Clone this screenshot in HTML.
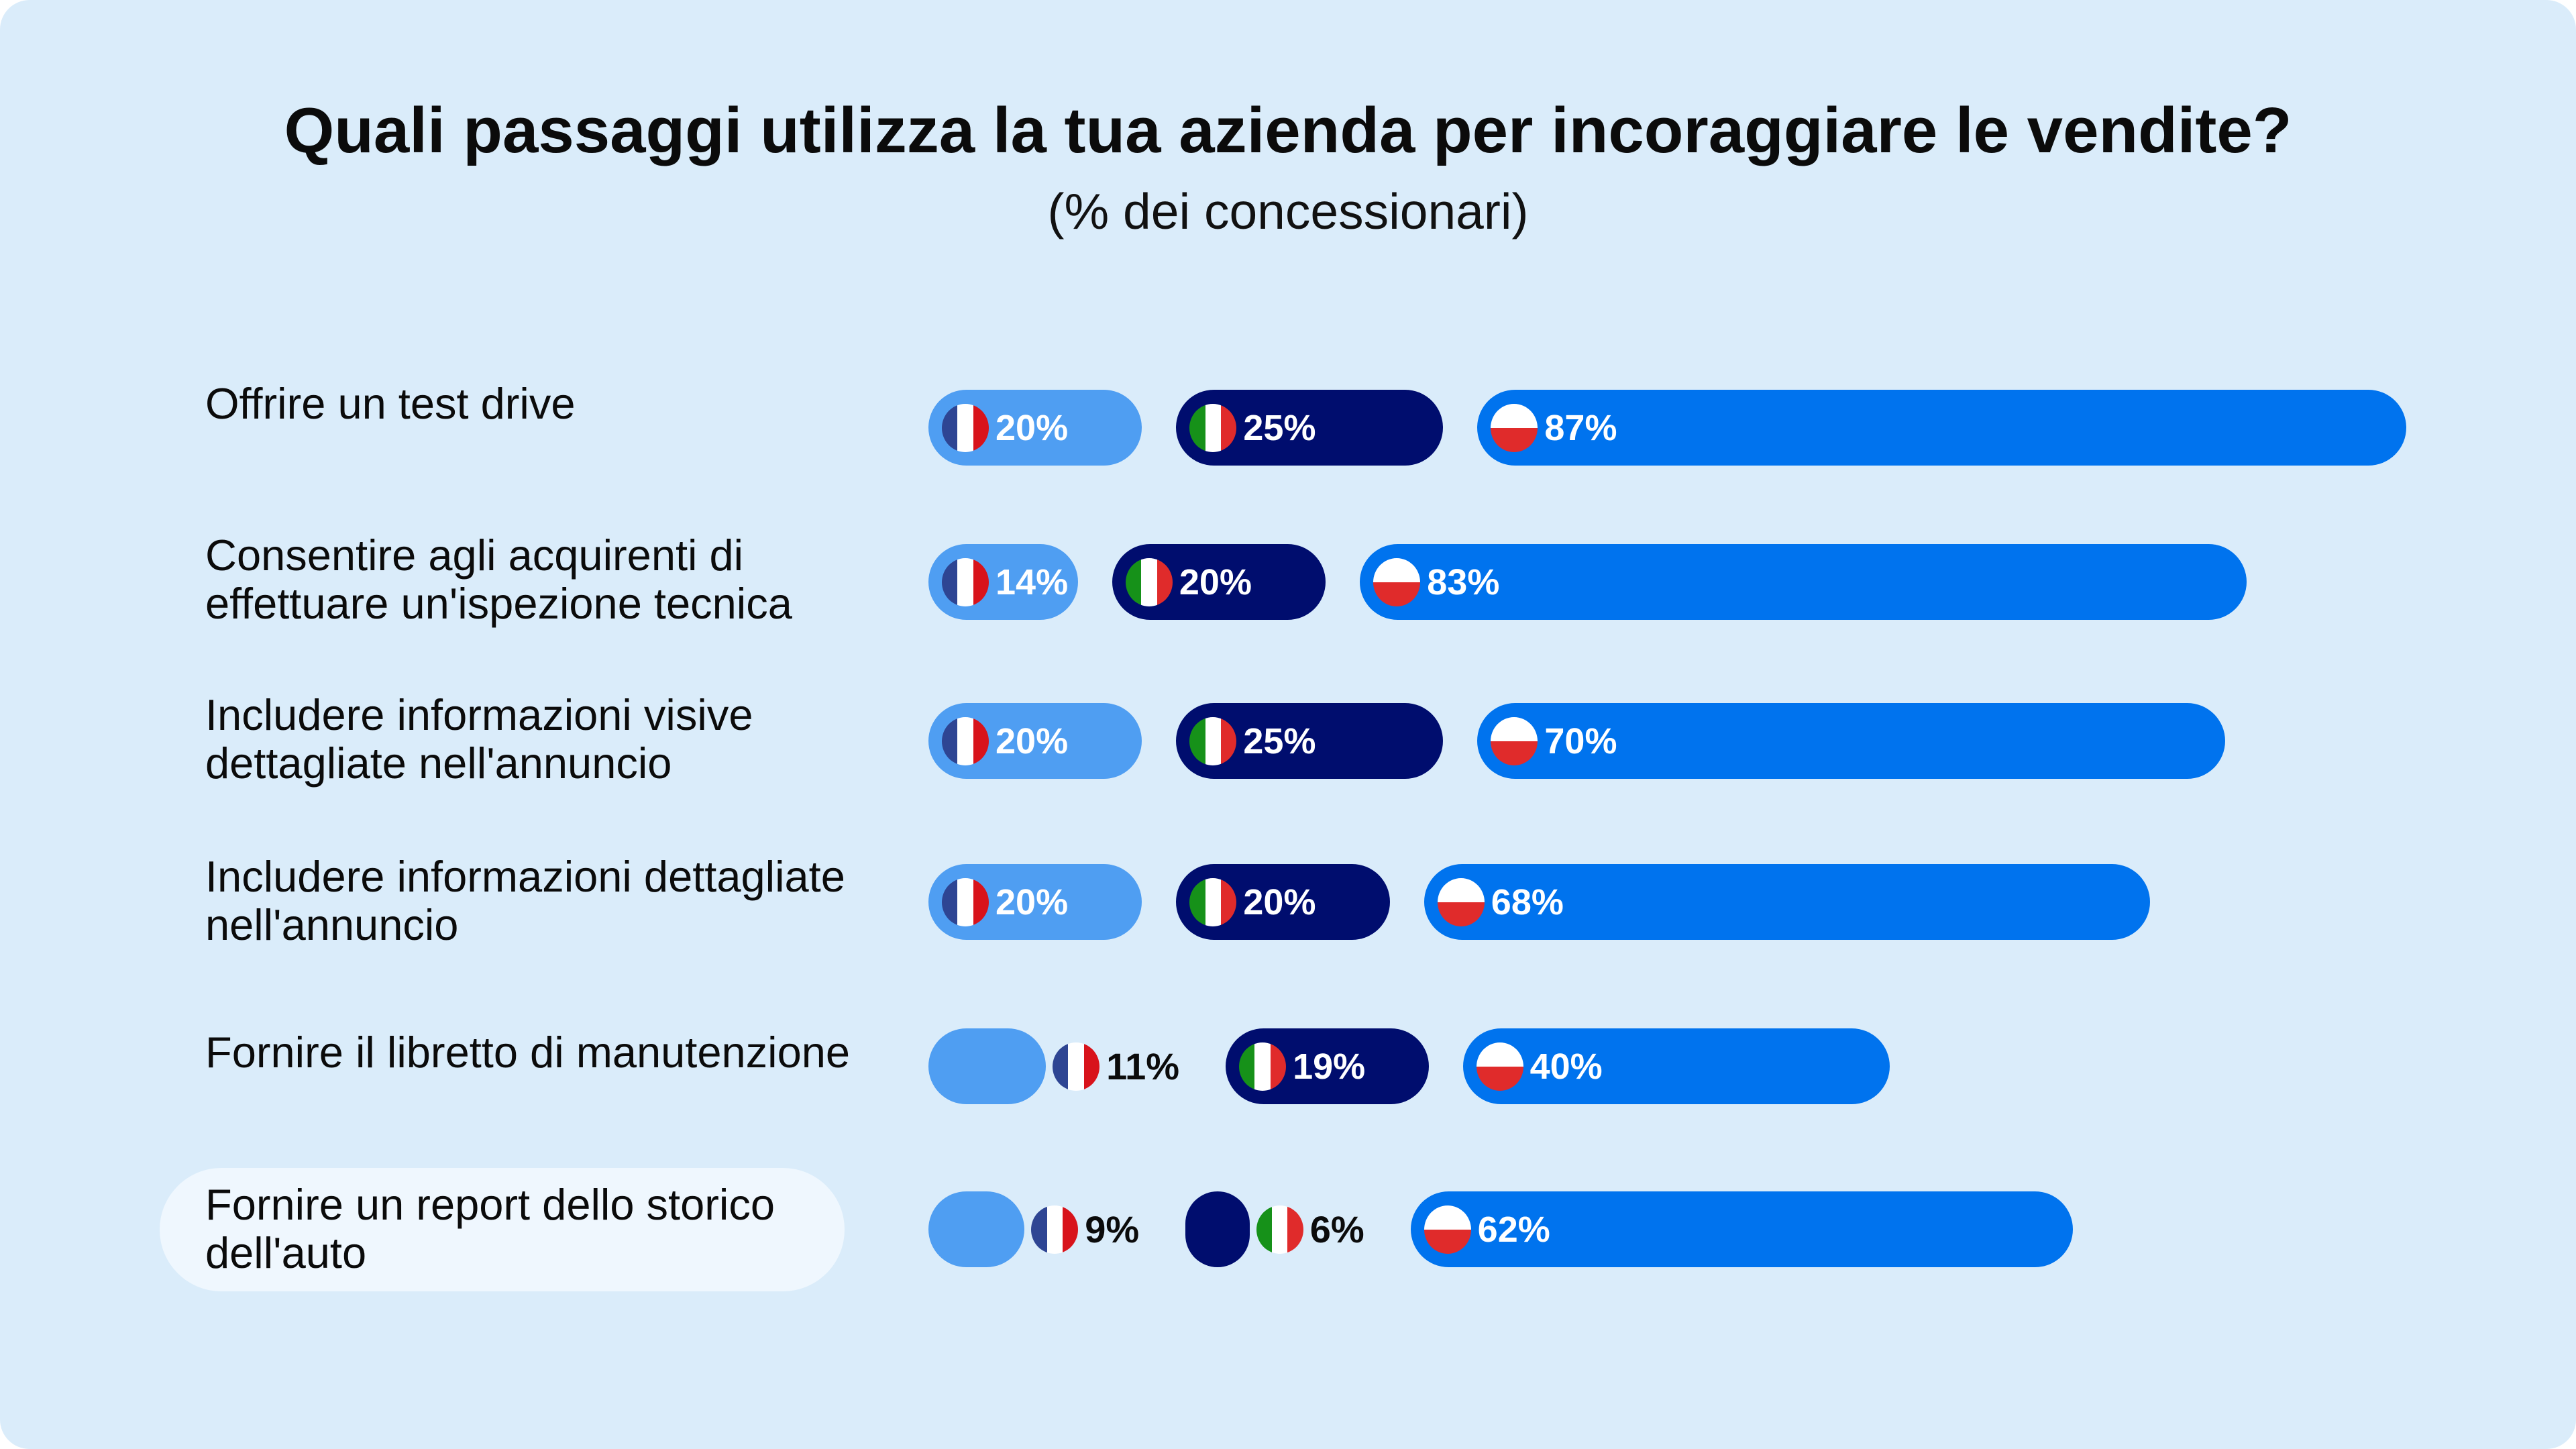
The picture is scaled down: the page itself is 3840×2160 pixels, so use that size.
<!DOCTYPE html>
<html><head><meta charset="utf-8">
<style>
html,body{margin:0;padding:0;background:#fff;}
#card{position:absolute;left:0;top:0;width:3840px;height:2160px;background:#daecfa;border-radius:44px;overflow:hidden;font-family:"Liberation Sans",sans-serif;}
#title{position:absolute;left:0;width:3840px;top:140px;text-align:center;font-size:96px;font-weight:bold;color:#0b0b0b;}
#sub{position:absolute;left:0;width:3840px;top:272px;text-align:center;font-size:75px;color:#111;}
.lbl{position:absolute;left:306px;font-size:65px;line-height:72px;color:#0b0b0b;}
.hl{position:absolute;left:238px;top:1741px;width:1021px;height:184px;border-radius:92px;background:#eff7fe;}
.row{position:absolute;left:1384px;height:113px;display:flex;align-items:center;}
.bar{height:113px;border-radius:57px;display:flex;align-items:center;flex-shrink:0;}
.flag{width:70px;height:72px;border-radius:50%;overflow:hidden;flex-shrink:0;display:flex;}
.pct{font-size:54px;font-weight:bold;margin-left:10px;}
</style></head><body>
<div id="card">
<div id="title">Quali passaggi utilizza la tua azienda per incoraggiare le vendite?</div>
<div id="sub">(% dei concessionari)</div>
<div class="hl"></div>
</div>
<script>
const categories=["Offrire un test drive","Consentire agli acquirenti di<br>effettuare un'ispezione tecnica","Includere informazioni visive<br>dettagliate nell'annuncio","Includere informazioni dettagliate<br>nell'annuncio","Fornire il libretto di manutenzione","Fornire un report dello storico<br>dell'auto"];
const franceValues=[20,14,20,20,11,9];
const italyValues=[25,20,25,20,19,6];
const polandValues=[87,83,70,68,40,62];
const seriesNames=["france","italy","poland"];

const card=document.getElementById('card');
const rowCenters=[637,867,1104,1344,1589,1832];
const labelTops=[566,792,1030,1271,1533,1760];
const pxPerPct=15.92;
const colors={france:"#4f9ef2",italy:"#000d6e",poland:"#0073ee"};
function flagEl(c){
  const f=document.createElement('div');f.className='flag';
  let parts;
  if(c==='france')parts=['#2e4593','#fff','#d8131b'];
  else if(c==='italy')parts=['#169119','#fff','#e02b2b'];
  else parts=null;
  if(parts){parts.forEach(col=>{const s=document.createElement('div');s.style.flex='1';s.style.background=col;f.appendChild(s);});}
  else{f.style.flexDirection='column';['#fff','#e02b2b'].forEach(col=>{const s=document.createElement('div');s.style.flex='1';s.style.background=col;f.appendChild(s);});}
  return f;
}
categories.forEach((cat,i)=>{
  const l=document.createElement('div');l.className='lbl';l.innerHTML=cat;l.style.top=labelTops[i]+'px';
  
  
  card.appendChild(l);
  const row=document.createElement('div');row.className='row';row.style.top=(rowCenters[i]-56)+'px';
  
  
  const vals=[franceValues[i],italyValues[i],polandValues[i]];
  seriesNames.forEach((s,k)=>{
    const v=vals[k];
    const b=document.createElement('div');b.className='bar';
    b.style.width=(v*pxPerPct)+'px';b.style.background=colors[s];
    b.style.marginLeft=(k===0?0:51)+'px';
    
    
    const inside=v*pxPerPct>200;
    const f=flagEl(s);
    
    
    const t=document.createElement('span');t.className='pct';t.textContent=v+'%';
    
    
    row.appendChild(b);
    if(inside){f.style.marginLeft='20px';t.style.color='#fff';b.appendChild(f);b.appendChild(t);}
    else{f.style.marginLeft='10px';t.style.color='#0b0b0b';t.style.fontSize='56px';t.style.marginRight='18px';row.appendChild(f);row.appendChild(t);}
  });
  card.appendChild(row);
});
</script>
</body></html>
